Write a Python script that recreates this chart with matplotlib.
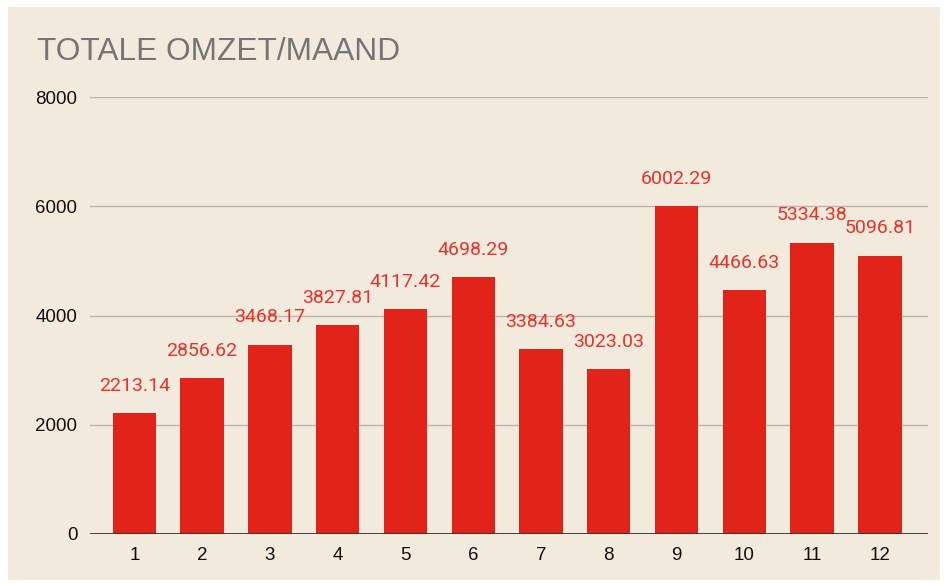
import matplotlib.pyplot as plt
from matplotlib.patches import Rectangle

# maandnummers en totale omzet per maand
months = [1, 2, 3, 4, 5, 6, 7, 8, 9, 10, 11, 12]
omzet = [2213.14, 2856.62, 3468.17, 3827.81, 4117.42, 4698.29,
         3384.63, 3023.03, 6002.29, 4466.63, 5334.38, 5096.81]
yticks = [0, 2000, 4000, 6000, 8000]

bg = '#F3EADE'
bar_color = '#E2231A'
label_color = '#E8332B'

fig = plt.figure(figsize=(9.44, 5.85), dpi=100)
fig.patch.set_facecolor('white')
# beige card behind the chart
fig.patches.append(Rectangle((8 / 944, 5 / 585), 932 / 944, 573 / 585,
                             transform=fig.transFigure, facecolor=bg,
                             edgecolor='none', zorder=-1))

ax = fig.add_axes([90 / 944, 51 / 585, 838 / 944, 437 / 585])
ax.set_zorder(1)
ax.set_facecolor('none')

bars = ax.bar(months, omzet, width=0.64, color=bar_color, zorder=3)

for m, v in zip(months, omzet):
    ax.annotate(f'{v:.2f}', (m, v), xytext=(0, 16), textcoords='offset points',
                ha='center', va='baseline', color=label_color,
                fontsize=14, family='Roboto', zorder=4)

ax.set_xlim(0.345, 12.71)
ax.set_ylim(0, 8000)
ax.set_xticks(months)
ax.set_xticklabels([str(m) for m in months])
ax.set_yticks(yticks)
ax.set_yticklabels([str(t) for t in yticks])
ax.tick_params(length=0, labelsize=13.5, colors='#111111', pad=9)
for lab in ax.get_xticklabels() + ax.get_yticklabels():
    lab.set_family('Liberation Sans')

ax.grid(axis='y', color='#BDB5AD', linewidth=1, zorder=1)
ax.axhline(0, color='#333333', linewidth=1.3, zorder=5)
for s in ax.spines.values():
    s.set_visible(False)

fig.text(37 / 944, 1 - 60 / 585, 'TOTALE OMZET/MAAND', fontsize=22.8,
         color='#757575', family='Liberation Sans', va='baseline')

fig.savefig('out.png', dpi=100, facecolor=fig.get_facecolor())
